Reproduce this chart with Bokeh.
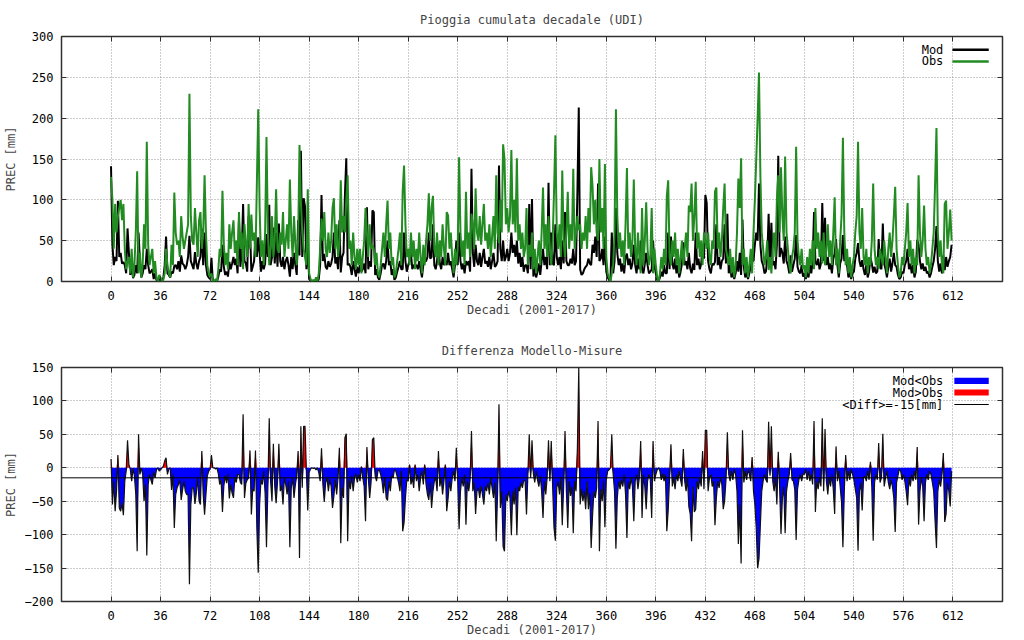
import numpy as np
from bokeh.plotting import figure
from bokeh.layouts import column
from bokeh.models import FixedTicker, LinearAxis, Span, Range1d, Label, BoxAnnotation
from bokeh.embed import file_html
from bokeh.resources import INLINE

# ---------------- data (decadal cumulated rain, mm) ----------------
obs_2001 = [128,100,40,95,60,80,90,100,75,95,40,15,24,30,10,40,5,20,60,135,10,35,5,20,70,40,171,45,20,30,40,10,25,5,0,8]
obs_2002 = [5,0,2,10,40,20,10,5,45,20,109,60,45,50,30,80,55,40,50,60,70,230,80,50,45,90,60,30,75,85,40,60,130,60,20,10]
obs_2003 = [5,10,0,0,3,0,15,40,30,111,45,20,35,15,70,40,60,75,35,50,20,85,40,60,15,70,45,30,95,40,82,50,60,30,120,211]
obs_2004 = [90,30,50,20,60,177,60,20,40,80,30,50,113,40,35,60,45,85,30,50,70,40,125,60,30,80,45,20,50,167,98,60,40,30,20,113]
obs_2005 = [10,3,0,2,0,5,0,10,40,77,50,85,40,30,60,35,50,90,102,40,70,30,45,124,60,80,60,100,130,40,50,20,60,30,15,40]
obs_2006 = [20,40,10,30,50,90,60,30,70,40,45,40,20,35,10,5,20,40,60,30,70,99,40,60,20,30,5,10,25,40,60,20,110,142,70,30]
obs_2007 = [40,20,60,30,50,15,40,25,60,30,10,45,20,50,70,108,50,90,105,40,30,60,20,50,30,70,40,20,85,81,40,60,30,10,40,20]
obs_2008 = [40,152,60,30,50,20,110,40,60,30,83,70,40,114,60,50,80,45,70,95,50,60,40,70,30,55,80,40,130,60,47,100,60,168,150,70]
obs_2009 = [90,60,80,161,70,100,60,151,50,70,40,60,30,40,90,20,45,30,60,15,40,10,30,50,20,60,115,40,70,30,80,40,20,50,110,179]
obs_2010 = [60,40,70,30,136,50,30,60,110,40,70,50,138,40,60,80,63,70,40,60,50,80,40,90,60,140,117,70,100,60,50,150,60,90,40,144]
obs_2011 = [30,10,5,0,10,20,60,211,80,40,60,30,50,20,70,139,40,60,30,50,125,40,20,60,30,10,90,20,50,97,40,20,30,90,10,40]
obs_2012 = [20,5,0,10,30,15,40,20,105,124,30,20,50,30,60,20,40,10,30,50,20,40,60,30,93,85,120,50,80,122,40,60,30,50,20,60]
obs_2013 = [50,40,60,30,20,50,40,110,115,40,60,30,50,90,120,40,30,20,40,10,30,5,20,60,126,90,151,20,40,10,30,5,20,40,10,60]
obs_2014 = [100,150,200,256,130,60,40,20,30,50,14,30,10,40,60,30,100,130,60,140,80,50,153,60,40,20,10,30,40,60,165,50,30,20,40,15]
obs_2015 = [20,5,30,10,40,20,50,15,90,40,60,30,50,22,60,20,40,70,30,50,20,60,103,20,40,10,50,80,176,60,20,40,10,30,5,20]
obs_2016 = [30,60,80,171,60,40,90,30,20,40,10,30,20,50,120,40,20,30,15,40,30,20,50,30,10,40,60,30,50,80,116,40,20,5,10,30]
obs_2017 = [20,40,60,96,30,50,20,40,10,30,20,130,60,30,50,93,40,20,30,10,20,40,60,120,188,60,30,50,20,10,95,99,40,60,88,50]

mod_2001 = [141,45,20,30,25,99,30,35,22,24,20,10,65,35,8,20,4,8,20,10,60,25,5,10,20,15,40,20,10,12,15,3,10,2,0,3]
mod_2002 = [2,0,4,20,55,10,8,5,12,10,19,20,15,25,12,32,22,20,15,20,30,56,25,20,15,36,22,15,25,30,65,20,60,20,8,5]
mod_2003 = [3,29,0,0,1,0,6,15,12,45,18,8,12,6,24,15,22,30,20,28,10,75,18,35,95,25,22,12,80,66,12,18,25,56,30,54]
mod_2004 = [35,12,25,15,22,58,30,94,20,30,66,22,60,18,71,25,18,30,15,25,30,20,6,30,15,35,20,8,75,32,160,30,102,92,15,49]
mod_2005 = [3,1,0,1,0,2,0,3,20,106,25,34,18,15,25,18,22,30,60,22,30,15,75,11,30,35,105,151,20,22,18,8,25,15,6,18]
mod_2006 = [10,20,12,15,22,10,91,15,25,18,87,85,8,15,5,2,10,20,22,15,25,50,20,25,8,15,2,5,12,18,25,15,15,60,25,12]
mod_2007 = [20,25,35,15,20,20,20,15,25,15,5,20,25,25,30,60,28,30,70,20,15,25,45,22,15,30,20,25,20,35,20,25,15,5,20,50]
mod_2008 = [20,60,25,15,22,10,25,20,25,12,138,35,18,45,25,20,35,18,30,40,22,25,18,30,15,25,35,18,20,25,142,40,25,50,25,30]
mod_2009 = [40,25,35,60,35,45,30,50,22,35,18,30,12,20,20,10,95,15,101,6,18,5,12,22,8,25,40,20,30,15,121,20,60,22,20,70]
mod_2010 = [30,20,30,15,50,22,85,25,20,20,28,22,40,20,25,110,213,15,8,10,15,18,20,28,22,20,45,35,55,30,120,25,28,40,20,55]
mod_2011 = [12,5,2,0,60,10,25,90,35,20,28,12,22,10,30,34,20,28,15,22,45,20,10,28,15,50,15,10,22,35,20,10,12,15,50,20]
mod_2012 = [10,2,0,5,12,6,20,10,10,60,15,55,22,15,28,10,20,5,12,22,48,20,25,15,35,16,10,22,14,60,20,28,15,22,45,28]
mod_2013 = [106,96,25,15,10,22,20,24,70,20,30,15,25,28,70,22,83,10,20,5,12,3,10,25,12,35,8,76,18,5,12,3,10,20,26,25]
mod_2014 = [45,60,50,120,45,25,20,10,12,28,83,18,72,20,25,15,45,154,30,41,35,22,55,25,20,10,32,12,20,28,57,18,12,10,20,6]
mod_2015 = [10,3,12,5,20,10,25,85,24,20,28,15,22,96,25,78,20,30,15,22,10,28,34,52,20,5,22,28,57,25,39,20,5,12,3,10]
mod_2016 = [12,28,35,47,25,18,26,15,8,20,5,12,29,22,11,18,10,12,52,18,15,71,22,15,5,18,28,12,22,35,20,18,8,3,5,12]
mod_2017 = [10,20,25,40,15,22,10,20,5,12,51,45,25,15,22,13,18,10,12,5,10,18,25,40,68,25,12,22,10,32,14,30,18,25,30,45]

mean_diff = -15
x_ticks = list(range(0, 613, 36))
y_ticks_top = [0, 50, 100, 150, 200, 250, 300]
y_ticks_bot = [-200, -150, -100, -50, 0, 50, 100, 150]

obs = np.array(sum([obs_2001, obs_2002, obs_2003, obs_2004, obs_2005, obs_2006, obs_2007, obs_2008, obs_2009,
                    obs_2010, obs_2011, obs_2012, obs_2013, obs_2014, obs_2015, obs_2016, obs_2017], []), dtype=float)
mod = np.array(sum([mod_2001, mod_2002, mod_2003, mod_2004, mod_2005, mod_2006, mod_2007, mod_2008, mod_2009,
                    mod_2010, mod_2011, mod_2012, mod_2013, mod_2014, mod_2015, mod_2016, mod_2017], []), dtype=float)
decade = np.arange(len(obs))
diff = mod - obs

FONT = "DejaVu Sans Mono"
GREEN = "#228B22"


def style(p, yticks, xlabel, ylabel, xstand, xlabstand, ylabstand):
    p.title.text_font = FONT
    p.title.text_font_size = "12px"
    p.title.text_font_style = "normal"
    p.title.align = "center"
    p.outline_line_color = "#303030"
    p.outline_line_width = 1.5
    xa = p.below[0]
    ya = p.left[0]
    for ax in (xa, ya):
        ax.major_tick_in = 5
        ax.major_tick_out = 0
        ax.minor_tick_in = 0
        ax.minor_tick_out = 0
        ax.axis_line_color = None
        ax.major_tick_line_color = "#303030"
        ax.major_label_text_font = FONT
        ax.major_label_text_font_size = "12px"
        ax.major_label_text_color = "#000000"
        ax.axis_label_text_font = FONT
        ax.axis_label_text_font_size = "12px"
        ax.axis_label_text_font_style = "normal"
    xa.ticker = FixedTicker(ticks=x_ticks)
    ya.ticker = FixedTicker(ticks=yticks)
    xa.axis_label = xlabel
    ya.axis_label = ylabel
    xa.major_label_standoff = xstand
    xa.axis_label_standoff = xlabstand
    ya.major_label_standoff = 8
    ya.axis_label_standoff = ylabstand
    p.xgrid.ticker = FixedTicker(ticks=x_ticks)
    p.ygrid.ticker = FixedTicker(ticks=yticks)
    for g in (p.xgrid, p.ygrid):
        g.grid_line_color = "#9a9a9a"
        g.grid_line_dash = "1 2"
        g.grid_line_width = 1
    # mirrored inward ticks on top and right borders (no labels)
    top = LinearAxis(ticker=FixedTicker(ticks=x_ticks),
                     major_label_overrides={t: "" for t in x_ticks})
    right = LinearAxis(ticker=FixedTicker(ticks=yticks),
                       major_label_overrides={t: "" for t in yticks})
    for ax in (top, right):
        ax.major_tick_in = 5
        ax.major_tick_out = 0
        ax.minor_tick_in = 0
        ax.minor_tick_out = 0
        ax.axis_line_color = None
        ax.major_tick_line_color = "#303030"
        ax.major_label_text_color = None
        ax.major_label_standoff = 0
    p.add_layout(top, "above")
    p.add_layout(right, "right")


# ---------------- top panel ----------------
p1 = figure(width=1016, height=330, x_range=Range1d(-36, 648), y_range=Range1d(0, 300),
            output_backend="svg", toolbar_location=None,
            min_border_left=58, min_border_right=14, min_border_top=36, min_border_bottom=49,
            title="Pioggia cumulata decadale (UDI)")
style(p1, y_ticks_top, "Decadi (2001-2017)", "PREC [mm]", 9, 0, 11)
p1.title.standoff = 19

p1.line(decade, mod, line_color="black", line_width=2)
p1.line(decade, obs, line_color=GREEN, line_width=2)

for txt, yv, col in (("Mod", 283.7, "black"), ("Obs", 269.4, GREEN)):
    p1.add_layout(Label(x=605, y=yv, text=txt, text_align="right", text_baseline="middle",
                        text_font=FONT, text_font_size="12px", text_color="black"))
    p1.add_layout(BoxAnnotation(left=611.6, right=638, bottom=yv - 1.5, top=yv + 1.5,
                                fill_color=col, fill_alpha=1, line_color=None))

# ---------------- bottom panel ----------------
p2 = figure(width=1016, height=310, x_range=Range1d(-36, 648), y_range=Range1d(-200, 150),
            output_backend="svg", toolbar_location=None,
            min_border_left=58, min_border_right=14, min_border_top=37, min_border_bottom=39,
            title="Differenza Modello-Misure")
style(p2, y_ticks_bot, "Decadi (2001-2017)", "PREC [mm]", 9, 0, 4)
p2.title.standoff = 19

p2.varea(x=decade, y1=np.zeros_like(diff), y2=np.maximum(diff, 0), fill_color="#FF0000")
p2.varea(x=decade, y1=np.zeros_like(diff), y2=np.minimum(diff, 0), fill_color="#0000FF")
p2.line(decade, diff, line_color="#101010", line_width=1.2)
p2.add_layout(Span(location=mean_diff, dimension="width", line_color="black", line_width=1))

for txt, yv, col, h in (("Mod<Obs", 130, "#0000FF", 4.5), ("Mod>Obs", 112.6, "#FF0000", 4.5),
                        ("<Diff>=-15[mm]", 94.6, "black", 0.8)):
    p2.add_layout(Label(x=605, y=yv, text=txt, text_align="right", text_baseline="middle",
                        text_font=FONT, text_font_size="12px", text_color="black"))
    p2.add_layout(BoxAnnotation(left=613, right=638, bottom=yv - h, top=yv + h,
                                fill_color=col, fill_alpha=1, line_color=None))

layout = column(p1, p2, spacing=0)
open("out.html", "w").write(file_html(layout, INLINE))
